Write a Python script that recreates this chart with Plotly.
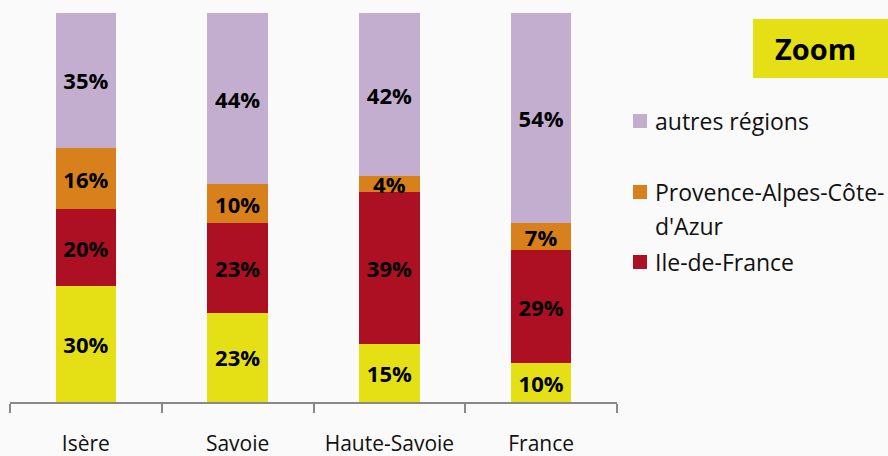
import plotly.graph_objects as go

# Répartition par origine des visiteurs (parts en %)
categories = ["Isère", "Savoie", "Haute-Savoie", "France"]
rhone_alpes = [30, 23, 15, 10]
ile_de_france = [20, 23, 39, 29]
paca = [16, 10, 4, 7]
autres = [35, 44, 42, 54]

series = [
    ("Rhône-Alpes", rhone_alpes, "#e5e015"),
    ("Ile-de-France", ile_de_france, "#ad1022"),
    ("Provence-Alpes-Côte-d'Azur", paca, "#d7801c"),
    ("autres régions", autres, "#c3aecf"),
]

# Legend entries shown beside the chart: (lines of text, colour, pixel row of first line)
legend_items = [
    (["autres régions"], "#c3aecf", 121),
    (["Provence-Alpes-Côte-", "d'Azur"], "#d7801c", 192),
    (["Ile-de-France"], "#ad1022", 262),
]
LINE_STEP = 34

W, H = 888, 456
BG = "#fafafa"
L, T, PW, PH = 10, 13, 607, 389


def px_x(x):
    return (x - L) / PW


def px_y(y):
    return (T + PH - y) / PH


fig = go.Figure()
for name, vals, color in series:
    fig.add_trace(go.Bar(
        x=categories,
        y=vals,
        name=name,
        marker=dict(color=color, line=dict(width=0)),
        text=[f"{v}%" for v in vals],
        textposition="inside",
        insidetextanchor="middle",
        textangle=0,
        insidetextfont=dict(family="Open Sans", size=22, color="#000000", weight="bold"),
        showlegend=False,
        hoverinfo="skip",
    ))

fig.update_layout(
    width=W, height=H,
    barmode="stack",
    barnorm="percent",
    bargap=0.6,
    paper_bgcolor=BG,
    plot_bgcolor=BG,
    margin=dict(l=L, r=W - L - PW, t=T, b=H - T - PH),
    uniformtext=dict(minsize=22, mode="show"),
    font=dict(family="Open Sans", color="#000000"),
)

fig.update_xaxes(
    showline=True, linecolor="#898989", linewidth=1.5,
    ticks="outside", tickson="boundaries", ticklen=9, tickcolor="#898989", tickwidth=1.5,
    tickfont=dict(family="Open Sans", size=21, color="#111111"),
    ticklabelstandoff=22,
    automargin=False,
    showgrid=False, zeroline=False,
    range=[-0.5, 3.5],
)
fig.update_yaxes(visible=False, range=[0, 100], fixedrange=True, automargin=False)

# "Zoom" tag in the top-right corner
fig.add_shape(type="rect", xref="paper", yref="paper",
              x0=px_x(753), x1=px_x(900), y0=px_y(78), y1=px_y(19),
              fillcolor="#e5e015", line=dict(width=0), layer="below")
fig.add_annotation(xref="paper", yref="paper",
                   x=px_x(815), y=px_y(48), xanchor="center", yanchor="middle",
                   text="<b>Zoom</b>", showarrow=False,
                   font=dict(family="Open Sans", size=29, color="#000000"))

# Legend squares and labels
for lines, color, yc in legend_items:
    fig.add_shape(type="rect", xref="paper", yref="paper",
                  x0=px_x(633), x1=px_x(647), y0=px_y(yc + 7), y1=px_y(yc - 7),
                  fillcolor=color, line=dict(width=0))
    for i, line in enumerate(lines):
        fig.add_annotation(xref="paper", yref="paper",
                           x=px_x(653), y=px_y(yc + i * LINE_STEP),
                           xanchor="left", yanchor="middle", align="left",
                           text=line, showarrow=False,
                           font=dict(family="Open Sans", size=23, color="#111111"))

fig.write_html("out.html")
